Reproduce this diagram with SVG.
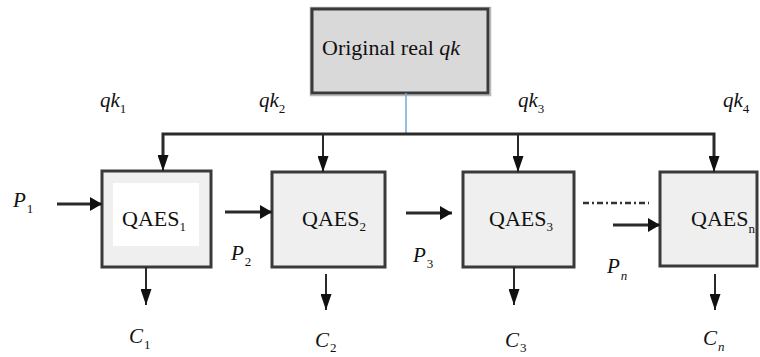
<svg xmlns="http://www.w3.org/2000/svg" width="760" height="357" viewBox="0 0 760 357">
<defs>
<style>
.box{fill:#efefef;stroke:#3a3a3a;stroke-width:3}
.top{fill:#d9d9d9;stroke:#3a3a3a;stroke-width:3}
.shadow{fill:none;stroke:#b8b8b8;stroke-width:1.5}
.t{font-family:"Liberation Serif","Times New Roman",serif;font-size:21px;fill:#111}
.b{font-size:22px}
.i{font-style:italic}
.s{font-size:13px;font-style:normal}
.si{font-size:13px;font-style:italic}
.ln{stroke:#2a2a2a;stroke-width:2;fill:none}
.thick{stroke:#2a2a2a;stroke-width:3;fill:none}
</style>
<marker id="ah" viewBox="0 0 16 11" markerWidth="16" markerHeight="11" markerUnits="userSpaceOnUse" refX="16" refY="5.5" orient="auto">
<path d="M0,0 L16,5.5 L0,11 z" fill="#111"/>
</marker>
<marker id="ahb" viewBox="0 0 12 14" markerWidth="12" markerHeight="14" markerUnits="userSpaceOnUse" refX="12" refY="7" orient="auto">
<path d="M0,0 L12,7 L0,14 z" fill="#111"/>
</marker>
</defs>
<rect width="760" height="357" fill="#ffffff"/>

<g id="original">
<rect class="shadow" x="310.5" y="7.5" width="180" height="88"/>
<rect class="top" x="312" y="9" width="176" height="84"/>
<text class="t b" x="322" y="55">Original real <tspan class="i">qk</tspan></text>
</g>

<g id="qaes1">
<rect class="box" x="102" y="171" width="109" height="96"/>
<rect x="113" y="183" width="86" height="63" fill="#ffffff"/>
<text class="t b" x="122" y="226">QAES<tspan class="s" dy="5">1</tspan></text>
</g>
<g id="qaes2">
<rect class="box" x="272" y="172" width="113" height="95"/>
<text class="t b" x="302" y="226">QAES<tspan class="s" dy="5">2</tspan></text>
</g>
<g id="qaes3">
<rect class="box" x="463" y="172" width="111" height="95"/>
<text class="t b" x="489" y="226">QAES<tspan class="s" dy="5">3</tspan></text>
</g>
<g id="qaesn">
<rect class="box" x="660" y="172" width="97" height="94"/>
<text class="t b" x="691" y="226">QAES<tspan class="s" dy="7">n</tspan></text>
</g>

<g id="connectors">
<line x1="406" y1="93" x2="406" y2="134" stroke="#6fa8dc" stroke-width="1.5"/>
<polyline class="thick" points="163,160 163,134 714,134 714,160" stroke-width="2.5"/>
<line class="ln" x1="163" y1="134" x2="163" y2="171" marker-end="url(#ah)"/>
<line class="ln" x1="323" y1="134" x2="323" y2="172" marker-end="url(#ah)"/>
<line class="ln" x1="518" y1="134" x2="518" y2="172" marker-end="url(#ah)"/>
<line class="ln" x1="714" y1="134" x2="714" y2="172" marker-end="url(#ah)"/>

<line class="thick" x1="57" y1="204" x2="102" y2="204" marker-end="url(#ahb)"/>
<line class="thick" x1="225" y1="212" x2="272" y2="212" marker-end="url(#ahb)"/>
<line class="thick" x1="406" y1="213" x2="452" y2="213" marker-end="url(#ahb)"/>
<line class="thick" x1="613" y1="225" x2="660" y2="225" marker-end="url(#ahb)"/>
<line x1="583" y1="203" x2="649" y2="203" stroke="#333" stroke-width="2.5" stroke-dasharray="6 3 2 3"/>

<line class="ln" x1="146" y1="267" x2="146" y2="305" marker-end="url(#ah)"/>
<line class="ln" x1="326" y1="274" x2="326" y2="310" marker-end="url(#ah)"/>
<line class="ln" x1="514" y1="267" x2="514" y2="305" marker-end="url(#ah)"/>
<line class="ln" x1="715" y1="274" x2="715" y2="310" marker-end="url(#ah)"/>
</g>

<g id="labels">
<text class="t i" x="100" y="107">qk<tspan class="s" dy="6">1</tspan></text>
<text class="t i" x="259" y="107">qk<tspan class="s" dy="6">2</tspan></text>
<text class="t i" x="518" y="107">qk<tspan class="s" dy="6">3</tspan></text>
<text class="t i" x="723" y="107">qk<tspan class="s" dy="6">4</tspan></text>
<text class="t i" x="13" y="207">P<tspan class="s" dx="1" dy="6">1</tspan></text>
<text class="t i" x="231" y="260">P<tspan class="s" dx="1" dy="6">2</tspan></text>
<text class="t i" x="413" y="262">P<tspan class="s" dx="1" dy="6">3</tspan></text>
<text class="t i" x="607" y="273">P<tspan class="si" dx="1" dy="7">n</tspan></text>
<text class="t i" x="129" y="343">C<tspan class="s" dx="1" dy="6">1</tspan></text>
<text class="t i" x="315" y="347">C<tspan class="s" dx="1" dy="5">2</tspan></text>
<text class="t i" x="505" y="347">C<tspan class="s" dx="1" dy="5">3</tspan></text>
<text class="t i" x="703" y="345">C<tspan class="si" dx="1" dy="6">n</tspan></text>
</g>
</svg>
